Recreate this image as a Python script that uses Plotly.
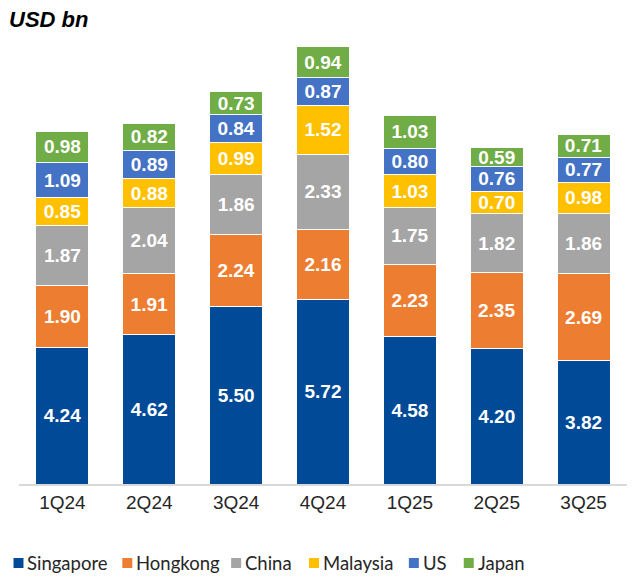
import plotly.graph_objects as go

quarters = ["1Q24", "2Q24", "3Q24", "4Q24", "1Q25", "2Q25", "3Q25"]
singapore = [4.24, 4.62, 5.50, 5.72, 4.58, 4.20, 3.82]
hongkong = [1.90, 1.91, 2.24, 2.16, 2.23, 2.35, 2.69]
china = [1.87, 2.04, 1.86, 2.33, 1.75, 1.82, 1.86]
malaysia = [0.85, 0.88, 0.99, 1.52, 1.03, 0.70, 0.98]
us = [1.09, 0.89, 0.84, 0.87, 0.80, 0.76, 0.77]
japan = [0.98, 0.82, 0.73, 0.94, 1.03, 0.59, 0.71]

series_names = ["Singapore", "Hongkong", "China", "Malaysia", "US", "Japan"]
series_values = [singapore, hongkong, china, malaysia, us, japan]
series_colors = ["#004A98", "#ED7D31", "#A5A5A5", "#FFC000", "#4472C4", "#70AD47"]

W, H = 642, 577
L, R, T, B = 18.5, 14.5, 32, 93
PW, PH = W - L - R, H - T - B

fig = go.Figure()
for name, vals, color in zip(series_names, series_values, series_colors):
    fig.add_trace(go.Bar(
        x=quarters, y=vals, name=name,
        marker=dict(color=color, line=dict(color="white", width=1)),
        text=[f"{v:.2f}" for v in vals],
        textposition="inside", insidetextanchor="middle", textangle=0,
        textfont=dict(color="white", size=19, family="Arial", weight="bold"),
        width=0.61, showlegend=False,
    ))

fig.update_layout(
    barmode="stack",
    width=W, height=H,
    margin=dict(l=L, r=R, t=T, b=B, autoexpand=False),
    plot_bgcolor="white", paper_bgcolor="white",
    uniformtext=dict(minsize=19, mode="show"),
    showlegend=False,
)

# title
fig.add_annotation(text="<b><i>USD bn</i></b>", xref="paper", yref="paper",
                   x=(6 - L) / PW, y=1 + (T - 20) / PH, xanchor="left", yanchor="middle",
                   showarrow=False, font=dict(family="Arial", size=22, color="black"))

# manual legend (square + label)
legend_sq_x = [13, 122, 231, 309, 409, 464]
legend_y = 563
for name, color, sx in zip(series_names, series_colors, legend_sq_x):
    x0 = (sx - L) / PW
    x1 = (sx + 10 - L) / PW
    y0 = (H - B - (legend_y + 5)) / PH
    y1 = (H - B - (legend_y - 5)) / PH
    fig.add_shape(type="rect", xref="paper", yref="paper", x0=x0, x1=x1, y0=y0, y1=y1,
                  fillcolor=color, line=dict(width=0))
    fig.add_annotation(text=name, xref="paper", yref="paper",
                       x=(sx + 12 - L) / PW, y=(H - B - legend_y) / PH,
                       xanchor="left", yanchor="middle", showarrow=False,
                       font=dict(family="Lato", size=18.5, color="#262626"))

fig.update_xaxes(showline=True, linecolor="#D9D9D9", linewidth=2, ticks="",
                 tickfont=dict(family="Arial", size=19, color="#262626"))
fig.update_yaxes(range=[0, 14], visible=False, showgrid=False)

fig.write_html("out.html", config={"displayModeBar": False},
               post_script="document.body.style.margin='0';")
